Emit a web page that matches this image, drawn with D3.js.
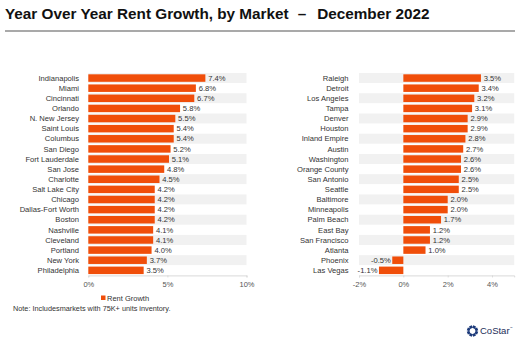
<!DOCTYPE html>
<html>
<head>
<meta charset="UTF-8">
<title>Year Over Year Rent Growth, by Market</title>
<script src="https://d3js.org/d3.v7.min.js"></script>
<style>
  body { margin: 0; background: #fff; }
  text { font-family: "Liberation Sans", Arial, sans-serif; }
</style>
</head>
<body>
<script>
// left panel
const leftMarkets = ["Indianapolis", "Miami", "Cincinnati", "Orlando", "N. New Jersey", "Saint Louis",
  "Columbus", "San Diego", "Fort Lauderdale", "San Jose", "Charlotte", "Salt Lake City", "Chicago",
  "Dallas-Fort Worth", "Boston", "Nashville", "Cleveland", "Portland", "New York", "Philadelphia"];
const leftGrowth = [7.4, 6.8, 6.7, 5.8, 5.5, 5.4, 5.4, 5.2, 5.1, 4.8, 4.5, 4.2, 4.2, 4.2, 4.2, 4.1, 4.1, 4.0, 3.7, 3.5];
const leftTicks = [0, 5, 10];

// right panel
const rightMarkets = ["Raleigh", "Detroit", "Los Angeles", "Tampa", "Denver", "Houston", "Inland Empire",
  "Austin", "Washington", "Orange County", "San Antonio", "Seattle", "Baltimore", "Minneapolis",
  "Palm Beach", "East Bay", "San Francisco", "Atlanta", "Phoenix", "Las Vegas"];
const rightGrowth = [3.5, 3.4, 3.2, 3.1, 2.9, 2.9, 2.8, 2.7, 2.6, 2.6, 2.5, 2.5, 2.0, 2.0, 1.7, 1.2, 1.2, 1.0, -0.5, -1.1];
const rightTicks = [-2, 0, 2, 4];

const width = 520, height = 351;
const barColor = "#f04e0a";

const svg = d3.select("body").append("svg")
  .attr("width", width).attr("height", height);

// title
const title = svg.append("text")
  .attr("x", 5).attr("y", 19)
  .attr("font-size", 15.3).attr("font-weight", "bold").attr("fill", "#111");
title.append("tspan").text("Year Over Year Rent Growth, by Market");
title.append("tspan").attr("dx", 9).text("–");
title.append("tspan").attr("dx", 11).text("December 2022");

svg.append("line")
  .attr("x1", 5).attr("x2", 515).attr("y1", 31).attr("y2", 31)
  .attr("stroke", "#8c8c8c").attr("stroke-width", 1.3);

function panel(markets, values, ticks, domain, x0, x1, labelRight) {
  const x = d3.scaleLinear().domain(domain).range([x0, x1]);
  const y = d3.scaleBand().domain(markets).range([73, 275.4]).paddingInner(0.26).paddingOuter(0.13);
  const step = y.step();
  const g = svg.append("g");

  // alternating row bands
  g.selectAll("rect.band").data(markets).enter().append("rect")
    .attr("class", "band")
    .attr("x", x0).attr("width", x1 - x0)
    .attr("y", d => y(d) - y.paddingInner() * step / 2)
    .attr("height", step)
    .attr("fill", (d, i) => i % 2 === 0 ? "#f1f1f1" : "#fff");

  // bottom axis
  const axis = g.append("g")
    .attr("transform", `translate(0,275.4)`)
    .call(d3.axisBottom(x).tickValues(ticks).tickSize(2).tickFormat(d => d + "%"));
  axis.select(".domain").attr("stroke", "#d9d9d9");
  axis.selectAll(".tick line").attr("stroke", "#d9d9d9");
  axis.selectAll(".tick text").attr("font-size", 7.5).attr("fill", "#555").attr("dy", "0.9em")
    .attr("font-family", "'Liberation Sans', Arial, sans-serif");

  // category labels
  g.selectAll("text.cat").data(markets).enter().append("text")
    .attr("class", "cat")
    .attr("x", labelRight)
    .attr("y", d => y(d) + y.bandwidth() / 2)
    .attr("dy", "0.35em")
    .attr("text-anchor", "end")
    .attr("font-size", 7.6).attr("fill", "#333")
    .text(d => d);

  // bars
  g.selectAll("rect.bar").data(values).enter().append("rect")
    .attr("class", "bar")
    .attr("x", d => x(Math.min(0, d)))
    .attr("width", d => Math.abs(x(d) - x(0)))
    .attr("y", (d, i) => y(markets[i]))
    .attr("height", y.bandwidth())
    .attr("fill", barColor);

  // value labels
  g.selectAll("text.val").data(values).enter().append("text")
    .attr("class", "val")
    .attr("x", d => d >= 0 ? x(d) + 2.8 : x(d) - 1.5)
    .attr("y", (d, i) => y(markets[i]) + y.bandwidth() / 2)
    .attr("dy", "0.35em")
    .attr("text-anchor", d => d >= 0 ? "start" : "end")
    .attr("font-size", 7.6).attr("fill", "#333")
    .text(d => d.toFixed(1) + "%");
}

panel(leftMarkets, leftGrowth, leftTicks, [0, 10], 88.3, 246.5, 79);
panel(rightMarkets, rightGrowth, rightTicks, [-2, 5], 359, 514.2, 348.5);

// legend
svg.append("rect").attr("x", 101).attr("y", 295.5).attr("width", 4.5).attr("height", 4.5).attr("fill", barColor);
svg.append("text").attr("x", 107).attr("y", 300.5).attr("font-size", 7.5).attr("fill", "#333").text("Rent Growth");

// note
svg.append("text").attr("x", 13).attr("y", 311).attr("font-size", 7.3).attr("fill", "#333")
  .text("Note: Includesmarkets with 75K+ units inventory.");

// CoStar logo
const logo = svg.append("g").attr("transform", "translate(472.5,331)");
d3.range(8).forEach(i => {
  const a = i * 45 + 22.5;
  logo.append("rect")
    .attr("x", -1.5).attr("y", -5.6).attr("width", 3).attr("height", 2.8)
    .attr("fill", "#1c3a7a")
    .attr("transform", `rotate(${a})`);
});
svg.append("text").attr("x", 480).attr("y", 334)
  .attr("font-family", "'Liberation Serif', 'DejaVu Serif', serif")
  .attr("font-size", 9.5).attr("fill", "#1c2d5a").text("CoStar");
svg.append("text").attr("x", 510).attr("y", 329)
  .attr("font-size", 2.5).attr("fill", "#1c2d5a").text("™");
</script>
</body>
</html>
